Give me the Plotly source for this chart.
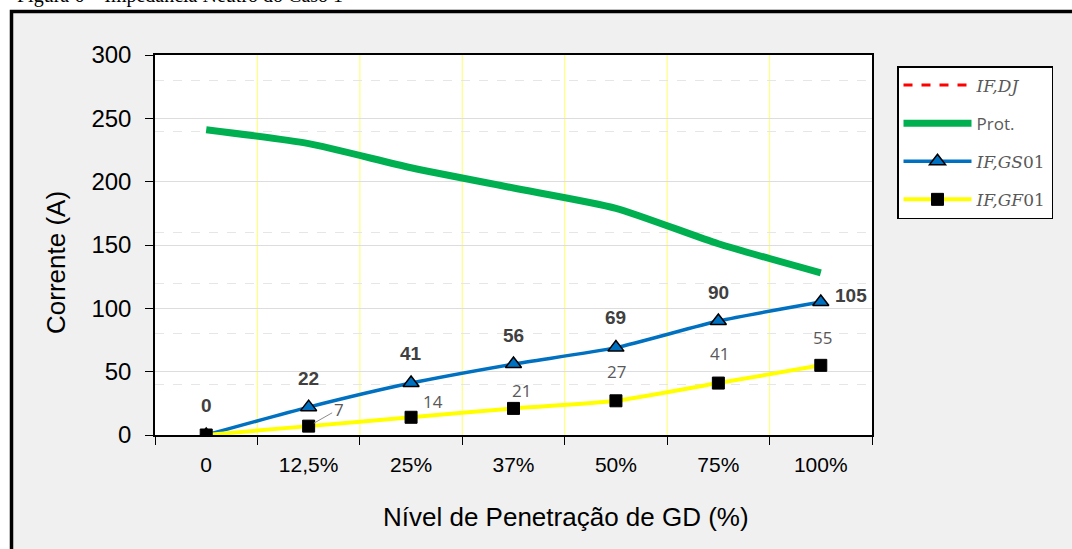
import plotly.graph_objects as go

# ---- data ----
categories = ["0", "12,5%", "25%", "37%", "50%", "75%", "100%"]
prot_values = [241, 230, 211, 195, 179, 151, 128]
gs01_values = [0, 22, 41, 56, 69, 90, 105]
gf01_values = [0, 7, 14, 21, 27, 41, 55]
dj_values = [None, None, None, None, None, None, None]

# label offsets (pixels) - style only
gs_label_shift = [(0, 30), (0, 29), (0, 30), (0, 29), (0, 30), (0, 29), (30, 7)]
gf_label_shift = [None, "arrow", (22, 16), (8, 18), (1, 29), (1, 30), (2, 28)]

W, H = 1072, 549
L, R, T, B = 155, 200, 55, 114
pw, ph = W - L - R, H - T - B

def px_x(p):
    return (p - L) / pw

def px_y(p):
    return (H - B - p) / ph

fig = go.Figure()

fig.add_trace(go.Scatter(
    x=categories, y=dj_values, name="<i>IF,DJ</i>", mode="lines",
    line=dict(color="#FF0000", width=3, dash="dash"), legendgroup="a"))
fig.add_trace(go.Scatter(
    x=categories, y=prot_values, name='<span style="font-family:Open Sans">Prot.</span>',
    mode="lines", line=dict(color="#00B050", width=7, shape="spline", smoothing=0.6),
    legendgroup="b"))
fig.add_trace(go.Scatter(
    x=categories, y=gs01_values, name="<i>IF,GS</i>01", mode="lines+markers",
    line=dict(color="#0070C0", width=3.5, shape="spline", smoothing=0.6),
    marker=dict(symbol="triangle-up", size=14, color="#0070C0",
                line=dict(color="black", width=1.5)),
    legendgroup="c"))
fig.add_trace(go.Scatter(
    x=categories, y=gf01_values, name="<i>IF,GF</i>01", mode="lines+markers",
    line=dict(color="#FFFF00", width=4, shape="spline", smoothing=0.6),
    marker=dict(symbol="square", size=12, color="black",
                line=dict(color="black", width=1)),
    legendgroup="d"))

annotations = []
for c, v, (dx, dy) in zip(categories, gs01_values, gs_label_shift):
    annotations.append(dict(
        x=c, y=v, text=f"<b>{v}</b>", showarrow=False, xshift=dx, yshift=dy,
        font=dict(family="Liberation Sans", size=19, color="#404040")))
for c, v, s in zip(categories, gf01_values, gf_label_shift):
    if s is None:
        continue
    if s == "arrow":
        annotations.append(dict(
            x=c, y=v, text=str(v), showarrow=True, ax=30, ay=-17,
            arrowhead=0, arrowwidth=1, arrowcolor="#8c8c8c", standoff=6,
            font=dict(family="Open Sans", size=17, color="#595959")))
    else:
        dx, dy = s
        annotations.append(dict(
            x=c, y=v, text=str(v), showarrow=False, xshift=dx, yshift=dy,
            font=dict(family="Open Sans", size=17, color="#595959")))

# clipped caption at very top
annotations.append(dict(
    xref="paper", yref="paper", x=px_x(15), y=px_y(9), xanchor="left", yanchor="bottom",
    text="Figura 6 – Impedância Neutro do Caso 1", showarrow=False,
    font=dict(family="Liberation Serif", size=20, color="black")))
# axis titles (placed like the reference)
annotations.append(dict(
    xref="paper", yref="paper", x=px_x(566), y=px_y(517), xanchor="center", yanchor="middle",
    text="Nível de Penetração de GD (%)", showarrow=False,
    font=dict(family="Liberation Sans", size=26, color="black")))
annotations.append(dict(
    xref="paper", yref="paper", x=px_x(56), y=px_y(263), xanchor="center", yanchor="middle",
    text="Corrente (A)", showarrow=False, textangle=-90,
    font=dict(family="Liberation Sans", size=26, color="black")))

shapes = [
    dict(type="rect", xref="paper", yref="paper", layer="below",
         x0=px_x(11.5), x1=px_x(1090), y0=px_y(570), y1=px_y(11.5),
         fillcolor="#F0F0F0", line=dict(color="black", width=3.5)),
    dict(type="rect", xref="paper", yref="paper", layer="below",
         x0=0, x1=1, y0=0, y1=1, fillcolor="white", line=dict(width=0)),
]
# category boundary gridlines (yellow)
for i in range(len(categories) - 1):
    shapes.append(dict(type="line", xref="x", yref="paper", layer="below",
                       x0=i + 0.5, x1=i + 0.5, y0=0, y1=1,
                       line=dict(color="#FFFF80", width=1.2)))

fig.update_layout(
    width=W, height=H,
    margin=dict(l=L, r=R, t=T, b=B, autoexpand=False),
    paper_bgcolor="white", plot_bgcolor="white",
    shapes=shapes, annotations=annotations,
    showlegend=True,
    legend=dict(
        x=px_x(897), y=px_y(66), xanchor="left", yanchor="top",
        bgcolor="white", bordercolor="black", borderwidth=1.5,
        font=dict(family="DejaVu Serif", size=17, color="#595959"),
        tracegroupgap=13, itemwidth=68),
    xaxis=dict(
        type="category", range=[-0.5, 6.5], tickson="boundaries",
        ticks="outside", ticklen=8, tickcolor="black", tickwidth=1.2,
        showline=True, linecolor="black", linewidth=2, mirror=True,
        showgrid=False,
        tickfont=dict(family="Liberation Sans", size=21, color="black"),
        ticklabelstandoff=10,
        zeroline=False),
    yaxis=dict(
        range=[0, 300], dtick=50, tick0=0,
        ticks="outside", ticklen=8, tickcolor="black", tickwidth=1.2,
        showline=True, linecolor="black", linewidth=1.5, mirror=True,
        showgrid=True, gridcolor="#DDDDDD", gridwidth=1,
        minor=dict(dtick=40, tick0=0, showgrid=True, gridcolor="#E6E6E6",
                   griddash="dash", gridwidth=1, ticks=""),
        tickfont=dict(family="Liberation Sans", size=24, color="black"),
        ticklabelstandoff=9,
        zeroline=False),
)

fig.write_html("out.html", config={"displayModeBar": False},
               post_script="document.body.style.margin='0';document.body.style.overflow='hidden';")
